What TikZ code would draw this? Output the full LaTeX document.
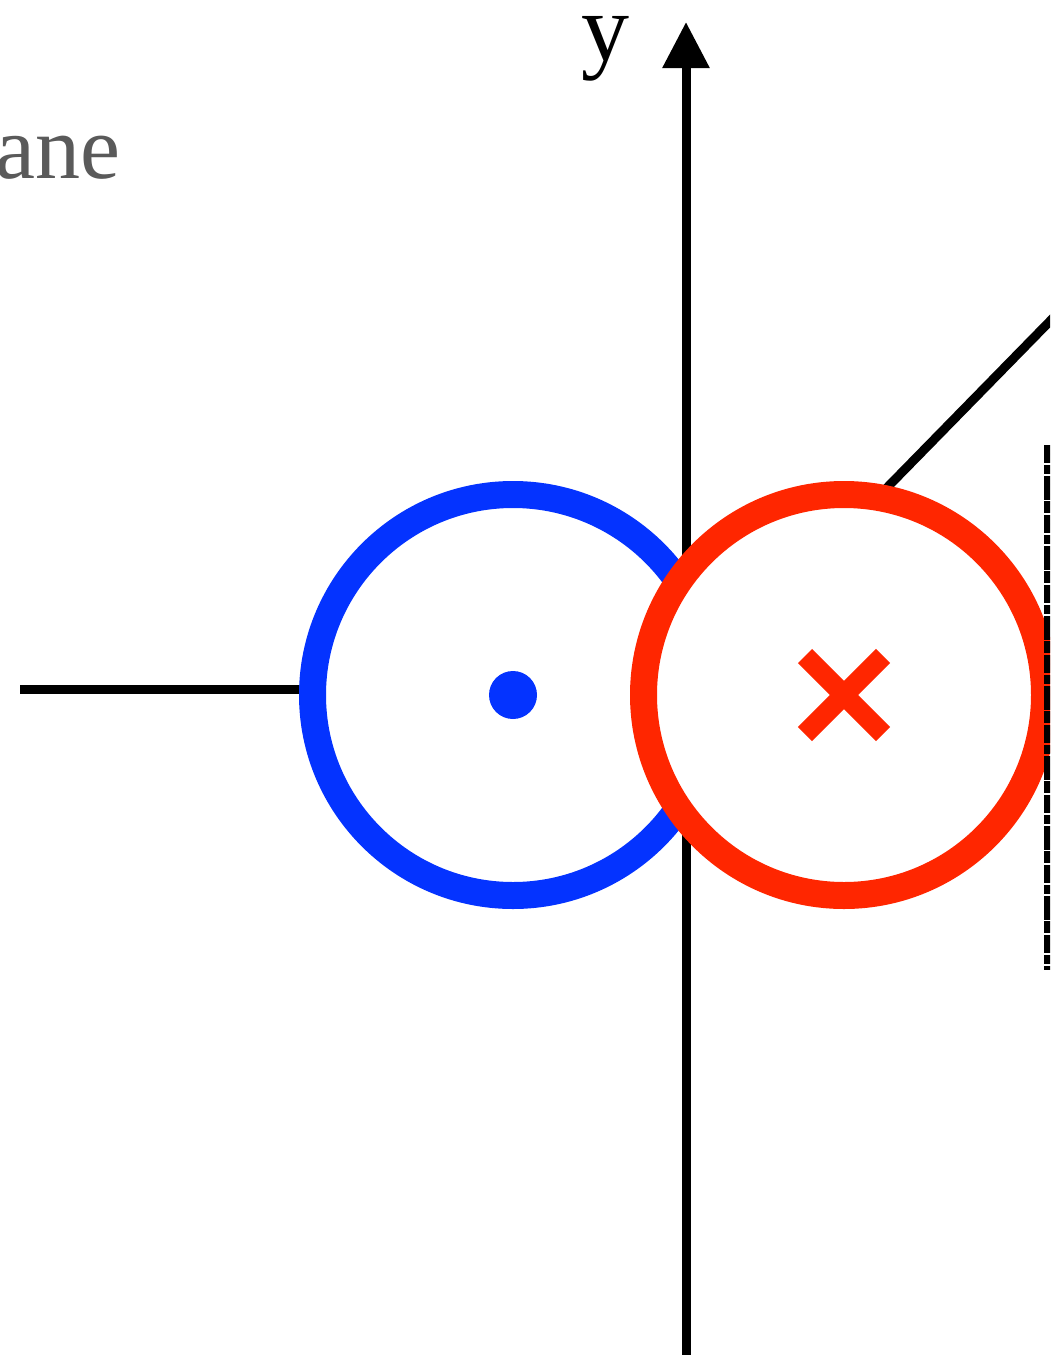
\documentclass[tikz,border=0pt]{standalone}
\usepackage{fontspec}
\setmainfont{Liberation Serif}
\usetikzlibrary{arrows.meta,calc}
\definecolor{cblue}{HTML}{0433FF}
\definecolor{cred}{HTML}{FF2600}
\definecolor{cgray}{HTML}{5A5A5A}
\begin{document}
\begin{tikzpicture}[x=1pt,y=-1pt,
  axisline/.style={line width=9pt,black},
  ring/.style={line width=27pt,fill=white},
]
\useasboundingbox (0,0) rectangle (1050,1355);
\begin{scope}
\clip (0,0) rectangle (1050,1355);
\fill[white] (0,0) rectangle (1050,1355);
% plane label
\node[anchor=base east,inner sep=0pt,text=cgray,font=\fontsize{90}{94}\selectfont] (planelbl) at (121,178) {plane};
% left horizontal line
\coordinate (hl) at (20,689);
\coordinate (hr) at (320,689);
\draw[axisline] (hl) -- (hr);
% blue ring
\coordinate (bc) at (513,695);
\draw[ring,draw=cblue] (bc) circle[radius=200.5];
\fill[cblue] (bc) circle[radius=24];
% y axis
\coordinate (ybot) at (686,1360);
\coordinate (ytop) at (686,22);
\draw[axisline,-{Triangle[length=46pt,width=45pt]}] (ybot) -- (ytop);
\node[inner sep=0pt,anchor=base,text height=44pt,text depth=20pt,font=\fontsize{96}{100}\selectfont] (ylbl) at (605,60) {y};
% diagonal line
\coordinate (d1) at (870,505);
\coordinate (d2) at (1100,270);
\draw[axisline] (d1) -- (d2);
% red ring
\coordinate (rc) at (844,695);
\draw[ring,draw=cred] (rc) circle[radius=200.5];
\draw[cred,line width=20pt] ($(rc)+(-39,-39)$) -- ($(rc)+(39,39)$);
\draw[cred,line width=20pt] ($(rc)+(-39,39)$) -- ($(rc)+(39,-39)$);
% rough vertical strip at the right edge
\coordinate (s1) at (1048,445);
\coordinate (s2) at (1048,970);
\draw[black,line width=9pt,dash pattern=on 18pt off 1.5pt on 9pt off 2pt on 24pt off 1.5pt on 12pt off 2pt] (s1) -- (s2);
\end{scope}
\end{tikzpicture}
\end{document}
